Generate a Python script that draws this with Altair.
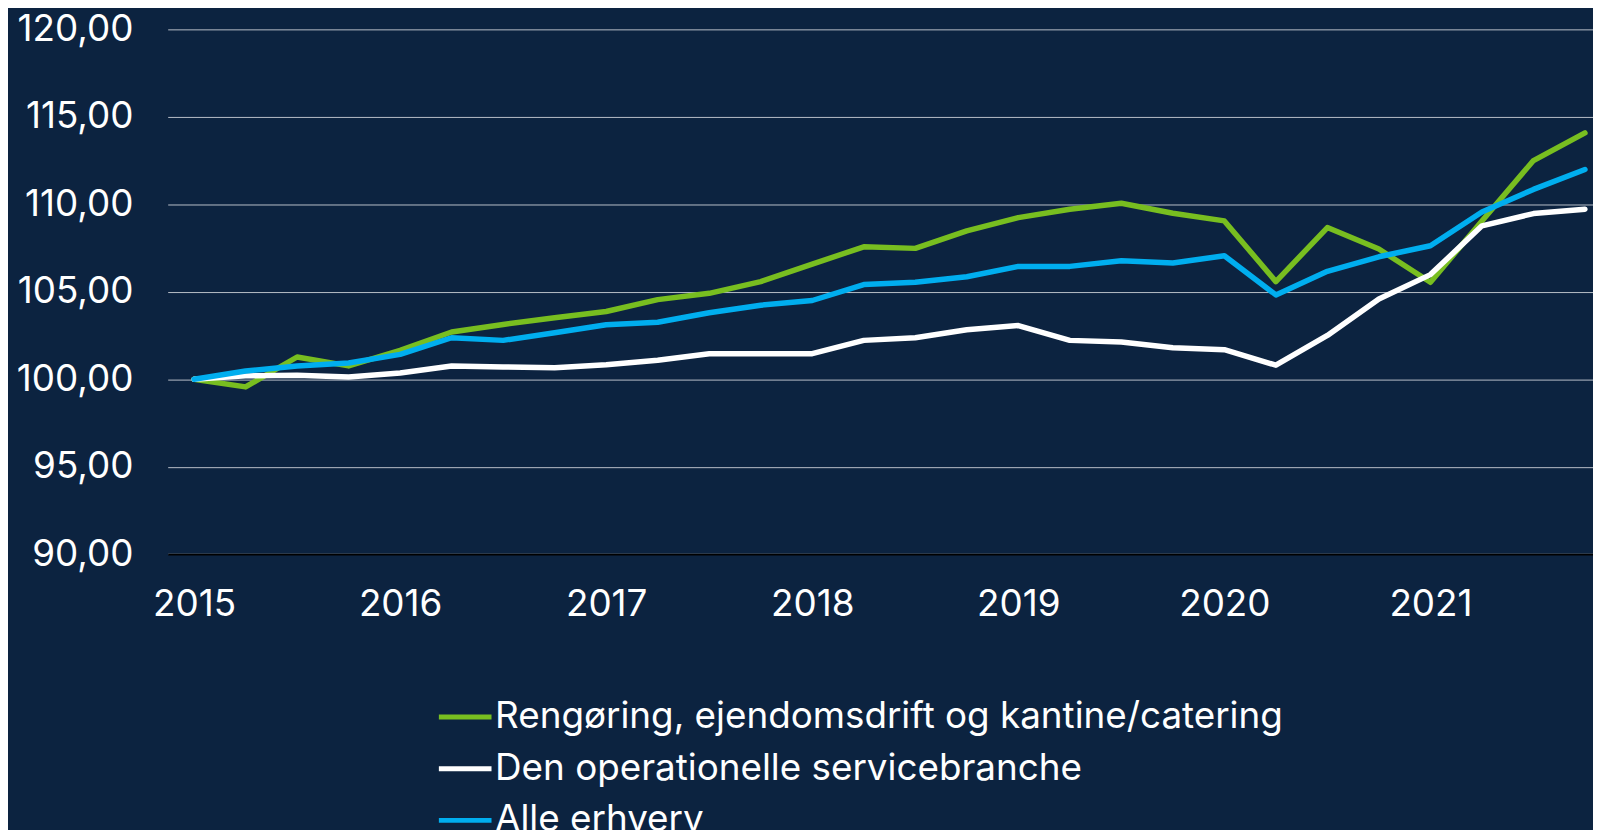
import altair as alt
import pandas as pd

periods = ["2015Q1", "2015Q2", "2015Q3", "2015Q4", "2016Q1", "2016Q2", "2016Q3", "2016Q4",
           "2017Q1", "2017Q2", "2017Q3", "2017Q4", "2018Q1", "2018Q2", "2018Q3", "2018Q4",
           "2019Q1", "2019Q2", "2019Q3", "2019Q4", "2020Q1", "2020Q2", "2020Q3", "2020Q4",
           "2021Q1", "2021Q2", "2021Q3", "2021Q4"]

rengoering = [100.0, 99.56, 101.27, 100.76, 101.65, 102.7, 103.13, 103.51, 103.87, 104.55,
              104.91, 105.58, 106.58, 107.57, 107.48, 108.48, 109.24, 109.72, 110.06, 109.49,
              109.05, 105.58, 108.67, 107.44, 105.54, 109.05, 112.5, 114.08]
operationelle = [100.0, 100.19, 100.23, 100.13, 100.36, 100.76, 100.7, 100.66, 100.83, 101.08,
                 101.46, 101.46, 101.46, 102.22, 102.37, 102.83, 103.07, 102.22, 102.13, 101.8,
                 101.69, 100.8, 102.5, 104.59, 105.98, 108.77, 109.47, 109.72]
alle = [100.0, 100.47, 100.76, 100.93, 101.42, 102.37, 102.22, 102.66, 103.11, 103.26,
        103.8, 104.23, 104.5, 105.41, 105.54, 105.86, 106.45, 106.45, 106.77, 106.64,
        107.06, 104.82, 106.17, 107.0, 107.63, 109.56, 110.85, 111.99]

series_names = ["Rengøring, ejendomsdrift og kantine/catering",
                "Den operationelle servicebranche",
                "Alle erhverv"]
series_colors = ["#78be20", "#ffffff", "#00aeef"]
year_ticks = [2015, 2016, 2017, 2018, 2019, 2020, 2021]
y_ticks = [90, 95, 100, 105, 110, 115, 120]

rows = []
for name, vals in zip(series_names, [rengoering, operationelle, alle]):
    for p, v in zip(periods, vals):
        t = int(p[:4]) + (int(p[5]) - 1) / 4
        rows.append({"periode": p, "t": t, "serie": name, "indeks": v})
df = pd.DataFrame(rows)

BG = "#0c2340"
FONT = "Inter"
FS = 37

chart = alt.Chart(df).mark_line(strokeWidth=5.5, strokeCap="round", strokeJoin="round").encode(
    x=alt.X("t:Q",
            scale=alt.Scale(domain=[2014.872, 2021.789], nice=False, zero=False),
            axis=alt.Axis(values=year_ticks, format="d", title=None, grid=False, ticks=False,
                          domainColor="#000000", domainWidth=2, labelPadding=33,
                          labelFontSize=FS, labelColor="#ffffff", labelFont=FONT,
                          labelFlush=False, zindex=1)),
    y=alt.Y("indeks:Q",
            scale=alt.Scale(domain=[90, 120], nice=False, zero=False),
            axis=alt.Axis(values=y_ticks, title=None, ticks=False, domain=False,
                          labelExpr="replace(format(datum.value, '.2f'), '.', ',')",
                          gridColor="#b8bec8", gridWidth=1, labelPadding=35,
                          labelFontSize=FS, labelColor="#ffffff", labelFont=FONT)),
    color=alt.Color("serie:N",
                    scale=alt.Scale(domain=series_names, range=series_colors),
                    sort=series_names,
                    legend=alt.Legend(title=None, orient="none", legendX=270, legendY=662,
                                      direction="vertical", symbolType="stroke",
                                      symbolStrokeWidth=5, symbolSize=2800,
                                      symbolOffset=0, labelOffset=1,
                                      labelFontSize=FS, labelFont=FONT, labelColor="#ffffff",
                                      labelLimit=1200, rowPadding=5)),
    order=alt.Order("t:Q"),
).properties(
    width=1432.5,
    height=527.4,
    autosize=alt.AutoSizeParams(type="none"),
    padding={"left": 160.5, "top": 19.4, "right": 0, "bottom": 280},
    background=BG,
).configure_view(stroke=None)

chart.save("out.html", embed_options={"renderer": "svg", "actions": False})
